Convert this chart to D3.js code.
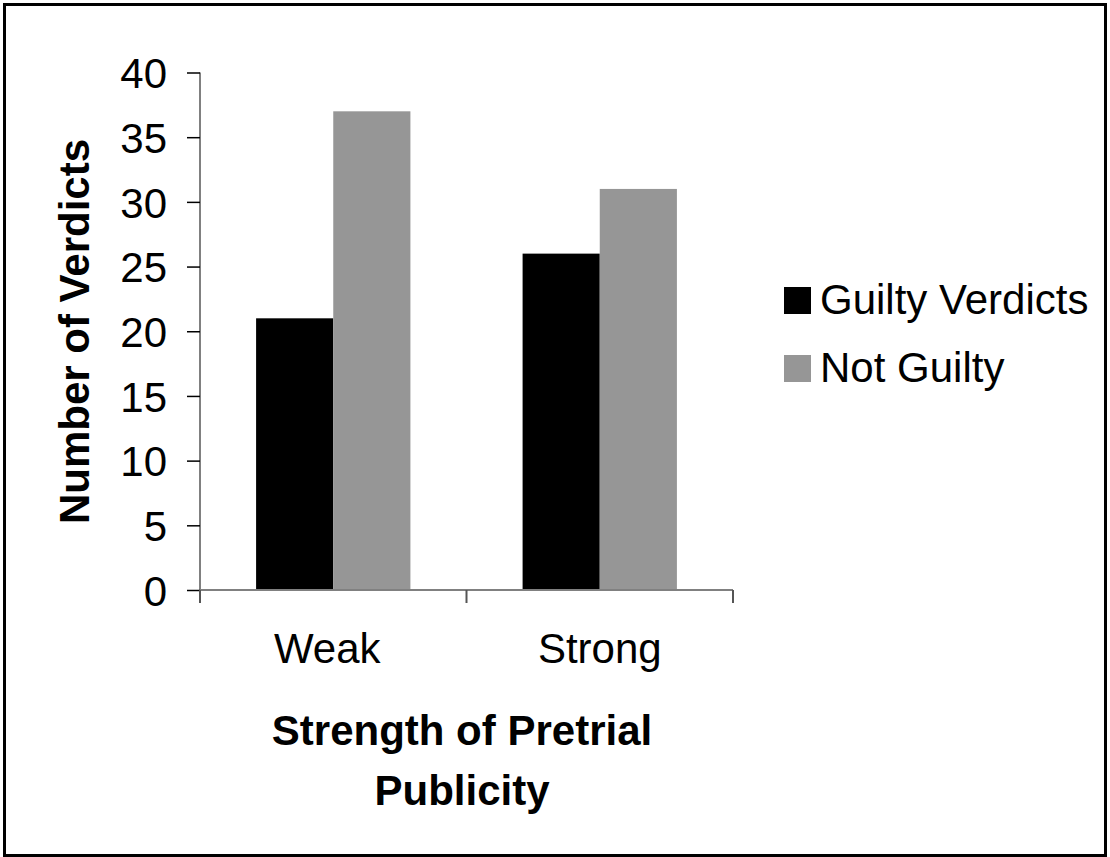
<!DOCTYPE html>
<html>
<head>
<meta charset="utf-8">
<script src="https://cdn.jsdelivr.net/npm/d3@7"></script>
<style>
  html, body { margin: 0; padding: 0; background: #fff; }
  svg { display: block; font-family: Arial, "Liberation Sans", sans-serif; }
</style>
</head>
<body>
<svg id="chart" width="1110" height="857"></svg>
<script>
// Verdict counts by strength of pretrial publicity
const categories = ["Weak", "Strong"];
const seriesNames = ["Guilty Verdicts", "Not Guilty"];
const guiltyVerdicts = [21, 26];
const notGuilty = [37, 31];
const yTicks = [0, 5, 10, 15, 20, 25, 30, 35, 40];
const seriesColors = ["#000000", "#969696"];

const seriesValues = [guiltyVerdicts, notGuilty];

const svg = d3.select("#chart");

// outer frame
svg.append("rect")
  .attr("x", 4.5).attr("y", 4.5)
  .attr("width", 1101).attr("height", 851)
  .attr("fill", "#fff").attr("stroke", "#000").attr("stroke-width", 3);

const plot = { left: 200, right: 733, top: 72.5, bottom: 590 };

const x0 = d3.scaleBand()
  .domain(categories)
  .range([plot.left, plot.right])
  .paddingInner(0).paddingOuter(0);

const x1 = d3.scaleBand()
  .domain(seriesNames)
  .range([0, x0.bandwidth()])
  .paddingInner(0)
  .paddingOuter(0.727);

const y = d3.scaleLinear().domain([0, 40]).range([plot.bottom, plot.top]);

// bars
categories.forEach((cat, ci) => {
  seriesNames.forEach((s, si) => {
    const v = seriesValues[si][ci];
    svg.append("rect")
      .attr("x", x0(cat) + x1(s))
      .attr("y", y(v))
      .attr("width", x1.bandwidth())
      .attr("height", y(0) - y(v))
      .attr("fill", seriesColors[si]);
  });
});

// y axis
const yAxis = svg.append("g")
  .attr("transform", `translate(${plot.left},0)`)
  .call(d3.axisLeft(y).tickValues(yTicks).tickSize(13).tickPadding(20).tickFormat(d3.format("d")));
yAxis.select(".domain").attr("stroke", "#808080").attr("stroke-width", 2).attr("d", `M0,${plot.top}V${plot.bottom}`);
yAxis.selectAll(".tick line").attr("stroke", "#000").attr("stroke-width", 1.5);
yAxis.selectAll(".tick text")
  .attr("font-size", 42).attr("fill", "#000")
  .attr("font-family", "Arial, 'Liberation Sans', sans-serif")
  .attr("dy", "0.36em");

// x axis: ticks at the category boundaries
const boundaries = [plot.left, ...categories.slice(1).map(c => x0(c)), plot.right];
const xAxis = svg.append("g");
xAxis.append("line")
  .attr("x1", plot.left).attr("x2", plot.right)
  .attr("y1", plot.bottom).attr("y2", plot.bottom)
  .attr("stroke", "#808080").attr("stroke-width", 2);
xAxis.selectAll("line.tk").data(boundaries).join("line")
  .attr("class", "tk")
  .attr("x1", d => d).attr("x2", d => d)
  .attr("y1", plot.bottom).attr("y2", plot.bottom + 13)
  .attr("stroke", "#555").attr("stroke-width", 2);
xAxis.selectAll("text").data(categories).join("text")
  .attr("x", d => x0(d) + x0.bandwidth() / 2 - (d === "Weak" ? 6 : 0))
  .attr("y", 663)
  .attr("text-anchor", "middle")
  .attr("font-size", 42)
  .attr("fill", "#000")
  .text(d => d);

// axis titles
svg.append("text")
  .attr("transform", "translate(89,331.5) rotate(-90)")
  .attr("text-anchor", "middle")
  .attr("font-size", 42).attr("font-weight", "bold")
  .text("Number of Verdicts");

const xTitle = svg.append("text")
  .attr("text-anchor", "middle")
  .attr("font-size", 42).attr("font-weight", "bold");
xTitle.append("tspan").attr("x", 462).attr("y", 745).text("Strength of Pretrial");
xTitle.append("tspan").attr("x", 462).attr("y", 805).text("Publicity");

// legend
const legend = svg.append("g").attr("transform", "translate(784,287)");
seriesNames.forEach((s, i) => {
  const g = legend.append("g").attr("transform", `translate(0,${i * 68})`);
  g.append("rect").attr("width", 27).attr("height", 27).attr("fill", seriesColors[i]);
  g.append("text").attr("x", 36).attr("y", 27).attr("font-size", 42).attr("fill", "#000").text(s);
});
</script>
</body>
</html>
